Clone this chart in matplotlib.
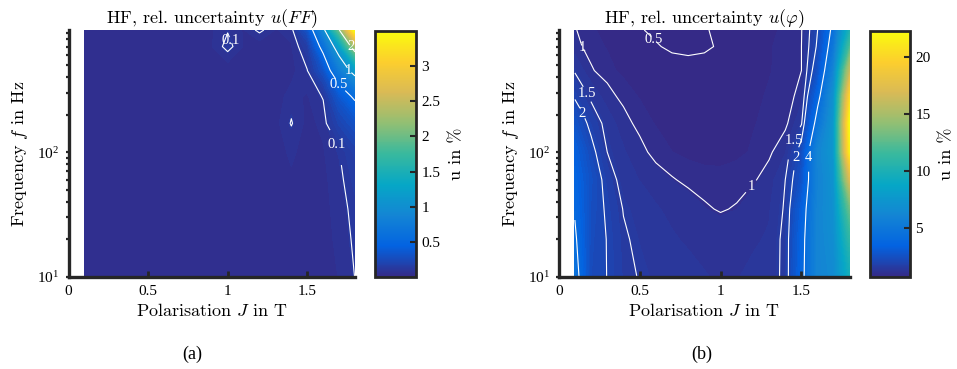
import numpy as np
import matplotlib
matplotlib.use("Agg")
import matplotlib.pyplot as plt
from matplotlib.colors import LinearSegmentedColormap, Normalize
from matplotlib.cm import ScalarMappable
from matplotlib.ticker import NullFormatter, FormatStrFormatter

plt.rcParams['font.family'] = ['Liberation Serif', 'DejaVu Serif']
plt.rcParams['mathtext.fontset'] = 'stix'

# measurement grid
J = [0.1, 0.2, 0.3, 0.4, 0.5, 0.6, 0.7, 0.8, 0.9, 1.0, 1.1, 1.2, 1.3, 1.4, 1.5, 1.6, 1.7, 1.8]
f = [10, 20, 35, 60, 100, 170, 280, 450, 700, 950]

# (a) rel. uncertainty u(FF) in %, rows = f, columns = J
u_ff = [
    [0.04, 0.04, 0.04, 0.04, 0.04, 0.04, 0.04, 0.04, 0.04, 0.04, 0.04, 0.04, 0.05, 0.055, 0.05, 0.055, 0.065, 0.101],
    [0.04, 0.04, 0.04, 0.04, 0.04, 0.04, 0.04, 0.04, 0.04, 0.04, 0.04, 0.04, 0.05, 0.055, 0.05, 0.055, 0.07, 0.11],
    [0.04, 0.04, 0.04, 0.04, 0.04, 0.04, 0.04, 0.04, 0.04, 0.04, 0.04, 0.04, 0.05, 0.055, 0.05, 0.055, 0.075, 0.12],
    [0.04, 0.04, 0.04, 0.04, 0.04, 0.04, 0.04, 0.04, 0.04, 0.04, 0.04, 0.04, 0.05, 0.06, 0.05, 0.055, 0.085, 0.14],
    [0.04, 0.04, 0.04, 0.04, 0.04, 0.04, 0.04, 0.04, 0.04, 0.04, 0.04, 0.04, 0.05, 0.07, 0.05, 0.06, 0.10, 0.17],
    [0.04, 0.04, 0.04, 0.04, 0.04, 0.04, 0.04, 0.04, 0.04, 0.04, 0.04, 0.04, 0.05, 0.104, 0.05, 0.075, 0.20, 0.30],
    [0.04, 0.045, 0.045, 0.045, 0.045, 0.04, 0.04, 0.04, 0.04, 0.04, 0.04, 0.04, 0.05, 0.075, 0.06, 0.105, 0.35, 0.55],
    [0.045, 0.055, 0.055, 0.055, 0.055, 0.05, 0.045, 0.04, 0.04, 0.04, 0.04, 0.04, 0.045, 0.05, 0.098, 0.30, 0.75, 1.15],
    [0.045, 0.055, 0.058, 0.058, 0.055, 0.052, 0.05, 0.05, 0.06, 0.12, 0.06, 0.04, 0.045, 0.06, 0.15, 0.60, 1.20, 2.30],
    [0.045, 0.052, 0.055, 0.055, 0.052, 0.05, 0.05, 0.05, 0.06, 0.095, 0.06, 0.115, 0.06, 0.08, 0.30, 0.90, 1.98, 3.50],
]

# (b) rel. uncertainty u(phi) in %
u_phi = [
    [4.60, 2.25, 1.99, 1.60, 1.48, 1.40, 1.33, 1.28, 1.24, 1.20, 1.22, 1.26, 1.28, 1.62, 3.60, 6.0, 6.5, 9.5],
    [4.20, 2.30, 1.98, 1.55, 1.42, 1.32, 1.25, 1.20, 1.15, 1.12, 1.14, 1.20, 1.25, 1.62, 3.50, 6.0, 6.8, 11.0],
    [3.85, 2.40, 1.90, 1.48, 1.35, 1.25, 1.17, 1.10, 1.03, 0.98, 1.02, 1.10, 1.20, 1.55, 3.20, 6.0, 7.0, 13.0],
    [3.60, 2.50, 1.75, 1.32, 1.22, 1.10, 1.02, 0.95, 0.90, 0.88, 0.90, 0.97, 1.10, 1.50, 2.60, 5.8, 7.2, 17.0],
    [3.30, 2.20, 1.50, 1.25, 1.08, 0.92, 0.82, 0.75, 0.72, 0.73, 0.77, 0.84, 0.95, 1.20, 2.30, 6.0, 7.5, 21.5],
    [2.60, 1.80, 1.35, 1.10, 0.92, 0.80, 0.72, 0.67, 0.66, 0.68, 0.73, 0.80, 0.88, 0.92, 1.45, 4.6, 7.5, 22.3],
    [1.90, 1.40, 1.10, 0.92, 0.80, 0.72, 0.66, 0.63, 0.63, 0.65, 0.70, 0.77, 0.84, 0.88, 1.10, 3.5, 7.0, 20.0],
    [1.45, 1.03, 0.88, 0.76, 0.66, 0.60, 0.59, 0.58, 0.59, 0.60, 0.63, 0.70, 0.80, 0.90, 1.00, 2.5, 6.0, 16.0],
    [1.08, 0.90, 0.80, 0.68, 0.58, 0.52, 0.46, 0.44, 0.46, 0.53, 0.62, 0.70, 0.80, 0.88, 1.00, 2.1, 5.0, 12.0],
    [1.02, 0.85, 0.75, 0.65, 0.52, 0.45, 0.42, 0.42, 0.48, 0.55, 0.62, 0.70, 0.78, 0.85, 0.98, 2.0, 4.5, 10.0],
]

levels_ff = [0.1, 0.5, 1, 2]
levels_phi = [0.5, 1, 1.5, 2, 4]
labels_ff = [(1.02, 790), (1.67, 110), (1.70, 345), (1.75, 450), (1.78, 700)]
labels_phi = [(0.53, 790), (0.13, 690), (0.16, 290), (0.13, 200),
              (1.19, 50), (1.45, 125), (1.47, 90), (1.55, 91)]
cticks_ff = [0.5, 1, 1.5, 2, 2.5, 3]
cticks_phi = [5, 10, 15, 20]

parula = LinearSegmentedColormap.from_list(
    'parula', ["#352a87", "#0363e1", "#1485d4", "#06a7c6", "#38b99e",
               "#92bf73", "#d9ba56", "#fcce2e", "#f9fb0e"])

W, H = 957, 369
fig = plt.figure(figsize=(W / 100, H / 100), dpi=100)


def px(l, r, t, b):
    return [l / W, 1 - b / H, (r - l) / W, (b - t) / H]


def panel(apos, cpos, U, vmin, vmax, lines, lab_pos, cticks, title, tag, tag_x):
    ax = fig.add_axes(px(*apos))
    U = np.array(U)
    norm = Normalize(vmin, vmax)
    cf = ax.contourf(J, f, U, levels=np.linspace(0, vmax + 0.01, 110),
                     cmap=parula, norm=norm)
    cf.set_edgecolor('face')
    cf.set_linewidth(0.4)
    cs = ax.contour(J, f, U, levels=lines, colors='white', linewidths=0.8)
    txt = ax.clabel(cs, fmt='%g', fontsize=10.5, manual=lab_pos, inline=True,
                    inline_spacing=2)
    for t in txt:
        t.set_fontfamily('Liberation Serif')
        t.set_rotation(0)
    ax.set_yscale('log')
    ax.set_xlim(0, 1.8)
    ax.set_ylim(10, 950)
    ax.set_xticks([0, 0.5, 1, 1.5])
    ax.xaxis.set_major_formatter(FormatStrFormatter('%g'))
    ax.yaxis.set_minor_formatter(NullFormatter())
    for s in ['top', 'right']:
        ax.spines[s].set_visible(False)
    for s in ['left', 'bottom']:
        ax.spines[s].set_linewidth(2.4)
        ax.spines[s].set_color('#262626')
    ax.tick_params(axis='x', which='major', direction='in', length=4, width=2,
                   color='#262626', labelsize=11, pad=6)
    ax.tick_params(axis='y', which='both', direction='out', length=2.5, width=1.6,
                   color='#262626', labelsize=11, pad=4)
    ax.set_title(title, fontfamily='cmr10', math_fontfamily='cm', fontsize=13, pad=5)
    ax.set_xlabel(r'Polarisation $J$ in T', fontfamily='cmr10', math_fontfamily='cm',
                  fontsize=13, labelpad=3)
    ax.set_ylabel(r'Frequency $f$ in Hz', fontfamily='cmr10', math_fontfamily='cm',
                  fontsize=13, labelpad=5)

    cax = fig.add_axes(px(*cpos))
    cb = fig.colorbar(ScalarMappable(norm=norm, cmap=parula), cax=cax, ticks=cticks)
    cb.outline.set_linewidth(2.0)
    cb.outline.set_edgecolor('#262626')
    cax.tick_params(direction='in', length=4, width=1.5, color='#262626',
                    labelsize=11, pad=4)
    cax.yaxis.set_major_formatter(FormatStrFormatter('%g'))
    cb.set_label('u in %', fontfamily='cmr10', fontsize=13, labelpad=6)
    fig.text(tag_x / W, 1 - 354 / H, tag, ha='center', va='center', fontsize=13)


panel((68.5, 355, 30, 277), (375, 416, 31, 277), u_ff, 0.0, 3.5, levels_ff,
      labels_ff, cticks_ff, r'HF, rel. uncertainty $u(FF)$', '(a)', 192)
panel((558.7, 850, 30, 277), (870, 910, 31, 277), u_phi, 0.7, 22.3, levels_phi,
      labels_phi, cticks_phi, r'HF, rel. uncertainty $u(\varphi)$', '(b)', 702)

fig.savefig('out.png', dpi=100)
